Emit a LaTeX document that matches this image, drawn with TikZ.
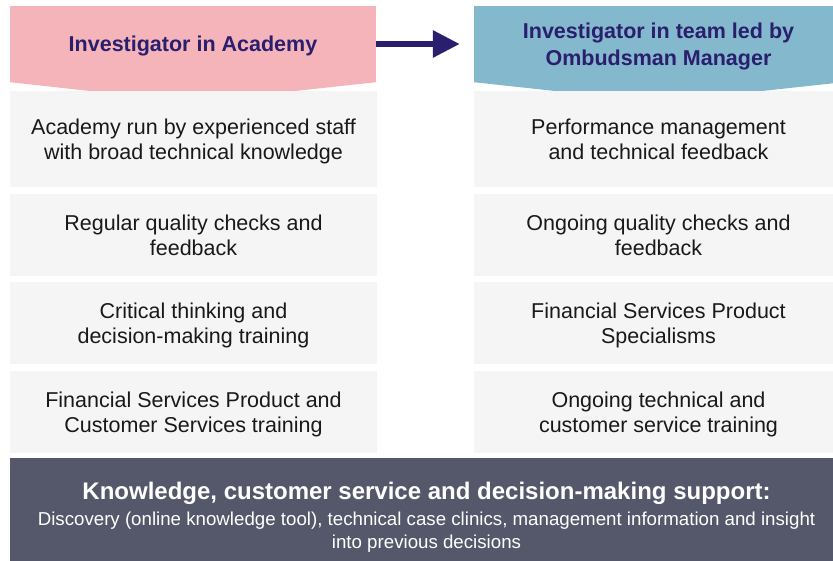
\documentclass[tikz,border=0pt]{standalone}
\usepackage{fontspec}
\setmainfont{Liberation Sans}
\usepackage{tikz}
\usetikzlibrary{arrows.meta,positioning}
\definecolor{hdpink}{RGB}{245,179,186}
\definecolor{hdblue}{RGB}{132,184,205}
\definecolor{hdnavy}{RGB}{42,31,110}
\definecolor{cellgray}{RGB}{245,245,245}
\definecolor{slate}{RGB}{84,88,106}

\begin{document}
\begin{tikzpicture}[x=1pt,y=-1pt,
  head/.style={inner sep=0pt,minimum height=76pt,text depth=-0.5pt,align=center,text=hdnavy,font=\fontsize{21.5}{27}\selectfont\bfseries},
  cell/.style={fill=cellgray,inner sep=0pt,text depth=0pt,align=center,text=black!90,font=\fontsize{21.5}{25}\selectfont},
  lcell/.style={cell,minimum width=367pt},
  rcell/.style={cell,minimum width=369pt}]
  \useasboundingbox (0,0) rectangle (833,561);
  \clip (0,0) rectangle (833,561);

  % column headers, with a shallow point at the bottom
  \node[head,fill=hdpink,minimum width=366pt] (acad) at (193,44) {Investigator in Academy};
  \node[head,fill=hdblue,minimum width=369pt] (omb) at (658.5,44) {Investigator in team led by\\Ombudsman Manager};
  \fill[hdpink] (acad.south west) -- ++(82,9) -- ([shift={(-83,9)}]acad.south east) -- (acad.south east) -- cycle;
  \fill[hdblue] (omb.south west) -- ++(83,9) -- ([shift={(-83,9)}]omb.south east) -- (omb.south east) -- cycle;
  \draw[hdnavy,line width=6pt,-{Triangle[length=27pt,width=26pt]},shorten >=14pt] (acad.east) -- (omb.west);

  % left column
  \node[lcell,minimum height=96pt] (a1) at (193.5,139) {Academy run by experienced staff\\with broad technical knowledge};
  \node[lcell,minimum height=82pt] (a2) at (193.5,235) {Regular quality checks and\\feedback};
  \node[lcell,minimum height=82pt] (a3) at (193.5,323) {Critical thinking and\\decision-making training};
  \node[lcell,minimum height=82pt] (a4) at (193.5,412) {Financial Services Product and\\Customer Services training};

  % right column
  \node[rcell,minimum height=96pt] (b1) at (658.5,139) {Performance management\\and technical feedback};
  \node[rcell,minimum height=82pt] (b2) at (658.5,235) {Ongoing quality checks and\\feedback};
  \node[rcell,minimum height=82pt] (b3) at (658.5,323) {Financial Services Product\\Specialisms};
  \node[rcell,minimum height=82pt] (b4) at (658.5,412) {Ongoing technical and\\customer service training};

  % support bar along the bottom
  \fill[slate] (10,458) rectangle (843,566);
  \node[text=white,text depth=0pt,font=\fontsize{24}{28}\selectfont\bfseries] (supp) at (426.5,491) {Knowledge, customer service and decision-making support:};
  \node[text=white,text depth=0pt,align=center,font=\fontsize{18.7}{23}\selectfont] (suppnote) at (426.5,530.5) {Discovery (online knowledge tool), technical case clinics, management information and insight\\into previous decisions};
\end{tikzpicture}
\end{document}
